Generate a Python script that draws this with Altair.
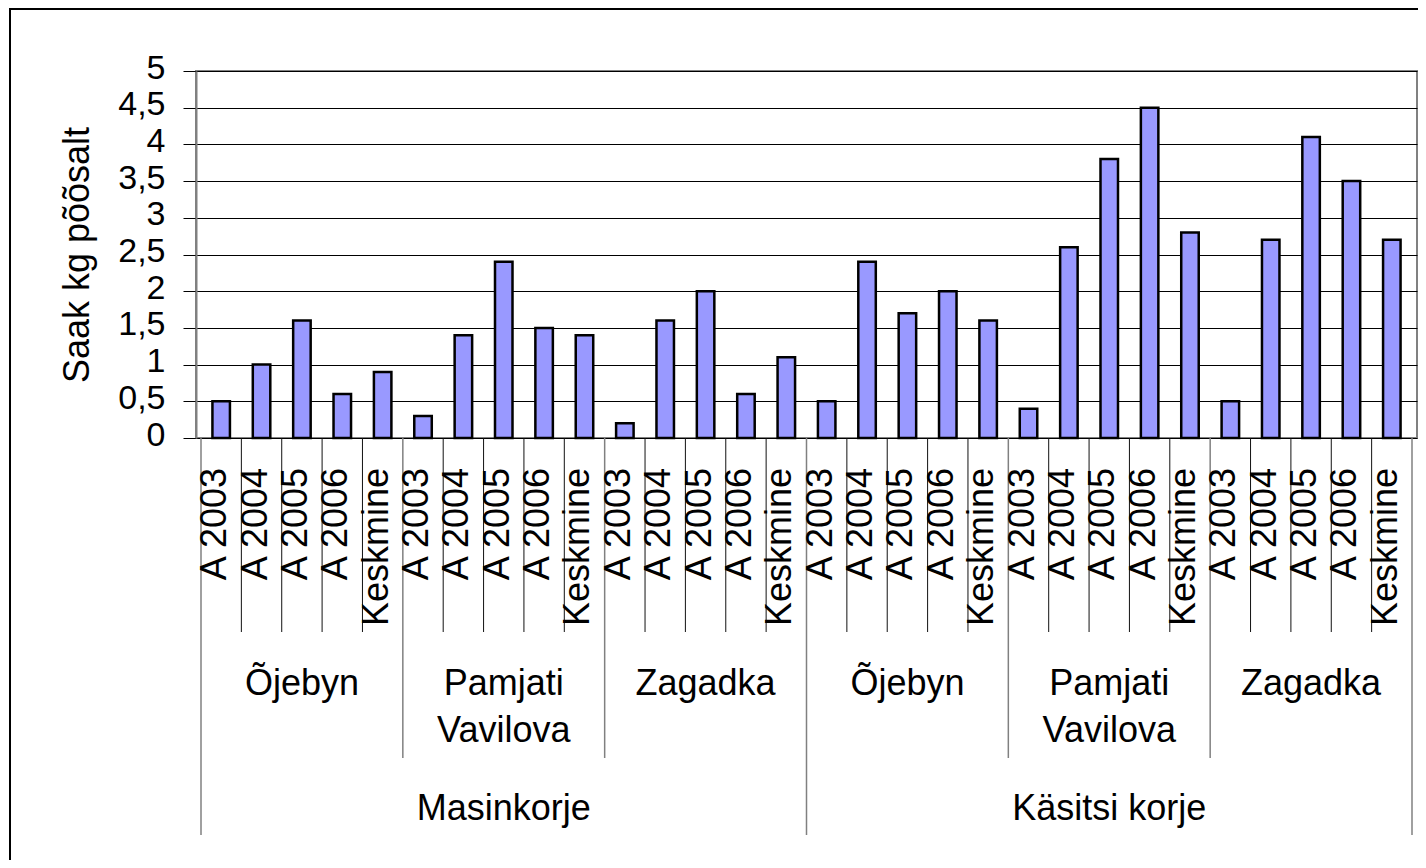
import altair as alt
import pandas as pd

methods = ["Masinkorje", "Käsitsi korje"]
varieties = ["Õjebyn", "Pamjati Vavilova", "Zagadka"]
years = ["A 2003", "A 2004", "A 2005", "A 2006", "Keskmine"]

mas_ojebyn = [0.5, 1.0, 1.6, 0.6, 0.9]
mas_pamjati = [0.3, 1.4, 2.4, 1.5, 1.4]
mas_zagadka = [0.2, 1.6, 2.0, 0.6, 1.1]
kas_ojebyn = [0.5, 2.4, 1.7, 2.0, 1.6]
kas_pamjati = [0.4, 2.6, 3.8, 4.5, 2.8]
kas_zagadka = [0.5, 2.7, 4.1, 3.5, 2.7]

y_ticks = [0, 0.5, 1, 1.5, 2, 2.5, 3, 3.5, 4, 4.5, 5]

series = [[mas_ojebyn, mas_pamjati, mas_zagadka],
          [kas_ojebyn, kas_pamjati, kas_zagadka]]

rows = []
i = 0
for m, method in enumerate(methods):
    for v, variety in enumerate(varieties):
        for k, year in enumerate(years):
            rows.append({"method": method, "variety": variety, "year": year,
                         "value": series[m][v][k], "idx": i})
            i += 1
df = pd.DataFrame(rows)
n = len(df)

var_df = (df.groupby(["method", "variety"], sort=False)["idx"].mean() + 0.5).reset_index()
var_df.columns = ["method", "variety", "center"]
met_df = (df.groupby(["method"], sort=False)["idx"].mean() + 0.5).reset_index()
met_df.columns = ["method", "center"]

nv = len(years)
nm = len(years) * len(varieties)
bounds = pd.DataFrame({"b": list(range(n + 1))})
bounds["level"] = [3 if b % nm == 0 else (2 if b % nv == 0 else 1) for b in bounds["b"]]

W, H = 1221, 367
FONT = "Liberation Sans"
FS = 36

xs = alt.Scale(domain=[0, n], nice=False, zero=False)
ys = alt.Scale(domain=[0, 5], nice=False)

bars = alt.Chart(df).transform_calculate(center="datum.idx + 0.5").mark_bar(
    width=17.5, fill="#9999FF", stroke="black", strokeWidth=2.5
).encode(
    x=alt.X("center:Q", scale=xs, axis=None),
    y=alt.Y("value:Q", scale=ys, axis=alt.Axis(
        values=y_ticks,
        labelExpr="replace(format(datum.value, '~g'), '.', ',')",
        title="Saak kg põõsalt",
        titleX=-108, titleY=H / 2, titleAngle=270, titleAlign="center",
        titleBaseline="alphabetic",
    )),
)

year_text = alt.Chart(df).transform_calculate(center="datum.idx + 0.5").mark_text(
    angle=270, align="right", baseline="middle", font=FONT, fontSize=FS, color="black",
    dy=-6
).encode(
    x=alt.X("center:Q", scale=xs),
    y=alt.value(397),
    text="year:N",
)

def rules(level, length, color, width):
    return alt.Chart(bounds).transform_filter(f"datum.level == {level}").mark_rule(
        color=color, strokeWidth=width
    ).encode(
        x=alt.X("b:Q", scale=xs),
        y=alt.value(H),
        y2=alt.value(H + length),
    )

r1 = rules(1, 194, "#111111", 1)
r2 = rules(2, 320, "#808080", 1.5)
r3 = rules(3, 397, "#808080", 1.5)

var_text = alt.Chart(var_df).mark_text(
    align="center", baseline="alphabetic", font=FONT, fontSize=FS, color="black",
    lineBreak=" ", lineHeight=47
).encode(
    x=alt.X("center:Q", scale=xs),
    y=alt.value(624),
    text="variety:N",
)

met_text = alt.Chart(met_df).mark_text(
    align="center", baseline="alphabetic", font=FONT, fontSize=FS, color="black"
).encode(
    x=alt.X("center:Q", scale=xs),
    y=alt.value(749),
    text="method:N",
)

frame = alt.Chart(pd.DataFrame({"f": [0]})).mark_rect(
    fillOpacity=0, stroke="black", strokeWidth=2
).encode(
    x=alt.value(-186), x2=alt.value(1240),
    y=alt.value(-62), y2=alt.value(820),
)

chart = alt.layer(bars, r1, r2, r3, year_text, var_text, met_text, frame).properties(
    width=W, height=H,
    autosize=alt.AutoSizeParams(type="none"),
    padding={"left": 188, "top": 63, "right": 1, "bottom": 422},
    background="white",
).configure_view(
    stroke="#808080", strokeWidth=2
).configure_axis(
    domainColor="#808080", domainWidth=2,
    tickColor="black", tickSize=13, tickWidth=1,
    gridColor="black", gridWidth=1, gridOpacity=1, grid=True,
    labelFont=FONT, labelFontSize=34, labelColor="black", labelPadding=18,
    labelOffset=-3,
    titleFont=FONT, titleFontSize=FS, titleFontWeight="normal", titleColor="black",
)

chart.save("out.html", embed_options={"renderer": "svg", "actions": False})
